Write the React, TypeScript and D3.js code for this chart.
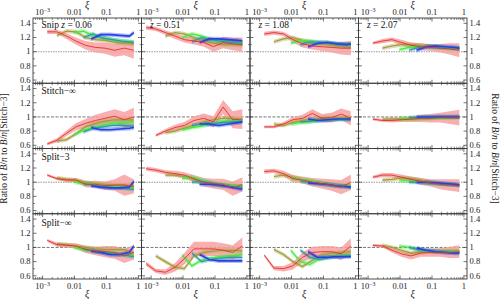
import React from 'react';
import * as d3 from 'd3';

// x grids (xi) for each series
const XR = [0.0014, 0.0028, 0.0056, 0.011, 0.022, 0.045, 0.09, 0.18, 0.36, 0.72];
const XR_B = [0.0007, 0.0014, 0.0028, 0.0056, 0.011, 0.022, 0.045, 0.09, 0.18, 0.36, 0.72];
const XO = [0.0028, 0.0056, 0.011, 0.022, 0.045, 0.09, 0.18, 0.36, 0.72];
const XO_B = [0.0014, 0.0028, 0.0056, 0.011, 0.022, 0.045, 0.09, 0.18, 0.36, 0.72];
const XG = [0.0095, 0.019, 0.038, 0.075, 0.15, 0.3, 0.72];
const XT = [0.019, 0.038, 0.075, 0.15, 0.3, 0.72];
const XB = [0.033, 0.066, 0.13, 0.26, 0.52, 0.72];

const Z_LABELS = ['0.06', '0.51', '1.08', '2.07'];
const ROW_NAMES = ['Snip', 'Stitch\u2212\u221e', 'Split\u22123', 'Split\u2212\u221e'];
const Y_TICKS = [0.6, 0.8, 1, 1.2, 1.4];
const Y_MINOR = [0.7, 0.9, 1.1, 1.3];
const X_TICKS = [1e-3, 0.01, 0.1, 1];
const X_TICK_LABELS = ['10|\u22123', '0.01', '0.1', '1'];

// Row 1: Snip
const RED_SNIP = [
  [1.28, 1.28, 1.22, 1.15, 1.09, 1.06, 1.05, 1.02, 1.05, 1.02],
  [1.34, 1.32, 1.27, 1.22, 1.17, 1.15, 1.13, 1.07, 1.13, 1.11, 1.1],
  [1.25, 1.27, 1.25, 1.17, 1.11, 1.08, 1.07, 1.06, 1.05, 1.05],
  [1.12, 1.15, 1.17, 1.13, 1.09, 1.07, 1.06, 1.05, 1.04, 1.02],
];
const RED_ERR_SNIP = [
  [0.03, 0.03, 0.04, 0.05, 0.06, 0.07, 0.08, 0.09, 0.1, 0.12],
  [0.03, 0.03, 0.03, 0.04, 0.04, 0.05, 0.06, 0.07, 0.08, 0.09, 0.1],
  [0.03, 0.03, 0.03, 0.04, 0.05, 0.05, 0.06, 0.07, 0.09, 0.1],
  [0.02, 0.03, 0.03, 0.04, 0.04, 0.05, 0.05, 0.06, 0.08, 0.1],
];
const OLIVE_SNIP = [
  [1.23, 1.29, 1.28, 1.2, 1.17, 1.16, 1.13, 1.12, 1.11],
  [1.22, 1.27, 1.25, 1.2, 1.15, 1.12, 1.1, 1.1, 1.09],
  [1.14, 1.18, 1.2, 1.16, 1.13, 1.11, 1.09, 1.07, 1.06],
  [1.05, 1.08, 1.1, 1.1, 1.09, 1.07, 1.06, 1.05, 1.04],
];
const GREEN_SNIP = [
  [1.27, 1.29, 1.23, 1.2, 1.17, 1.15, 1.14],
  [1.2, 1.25, 1.22, 1.17, 1.15, 1.13, 1.12],
  [1.12, 1.16, 1.15, 1.13, 1.12, 1.1, 1.1],
  [1.03, 1.06, 1.07, 1.07, 1.06, 1.05, 1.05],
];
const TEAL_SNIP = [
  [1.2, 1.25, 1.19, 1.17, 1.15, 1.13],
  [1.14, 1.2, 1.17, 1.15, 1.13, 1.12],
  [1.1, 1.14, 1.13, 1.12, 1.11, 1.1],
  [1.02, 1.06, 1.07, 1.06, 1.05, 1.05],
];
const BLUE_SNIP = [
  [1.18, 1.24, 1.24, 1.23, 1.22, 1.27],
  [1.13, 1.18, 1.18, 1.17, 1.16, 1.15],
  [1.07, 1.12, 1.13, 1.11, 1.1, 1.11],
  [1.02, 1.07, 1.08, 1.07, 1.06, 1.05],
];

// Row 2: Stitch-inf
const RED_STITCHINF = [
  [0.62, 0.67, 0.77, 0.86, 0.91, 0.95, 0.98, 1.01, 0.96, 1.0],
  [0.74, 0.8, 0.85, 0.88, 0.95, 0.98, 0.93, 1.14, 0.96, 0.97],
  [0.86, 0.86, 0.9, 0.96, 0.98, 1.05, 0.98, 0.99, 1.04, 0.98],
  [0.97, 0.95, 0.95, 0.96, 0.97, 0.98, 0.98, 0.99, 0.99, 0.99],
];
const RED_ERR_STITCHINF = [
  [0.02, 0.03, 0.04, 0.05, 0.06, 0.08, 0.09, 0.1, 0.11, 0.13],
  [0.02, 0.03, 0.04, 0.05, 0.06, 0.07, 0.08, 0.1, 0.12, 0.14],
  [0.02, 0.02, 0.03, 0.04, 0.05, 0.06, 0.06, 0.07, 0.08, 0.1],
  [0.02, 0.02, 0.03, 0.03, 0.04, 0.05, 0.06, 0.07, 0.09, 0.11],
];
const OLIVE_STITCHINF = [
  [0.66, 0.68, 0.76, 0.86, 0.91, 0.94, 0.96, 0.96, 0.96],
  [0.78, 0.8, 0.84, 0.88, 0.93, 0.96, 0.98, 0.98, 0.96],
  [0.9, 0.88, 0.92, 0.95, 0.97, 0.99, 0.99, 0.99, 0.99],
  [0.97, 0.97, 0.97, 0.97, 0.98, 0.98, 0.99, 0.99, 0.99],
];
const GREEN_STITCHINF = [
  [0.75, 0.81, 0.85, 0.88, 0.91, 0.92, 0.93],
  [0.82, 0.85, 0.87, 0.9, 0.93, 0.95, 0.96],
  [0.9, 0.92, 0.93, 0.95, 0.97, 0.97, 0.97],
  [0.98, 0.98, 0.98, 0.99, 0.99, 0.99, 1.0],
];
const TEAL_STITCHINF = [
  [0.79, 0.84, 0.86, 0.88, 0.88, 0.87],
  [0.88, 0.9, 0.9, 0.92, 0.93, 0.94],
  [0.93, 0.94, 0.95, 0.96, 0.97, 0.97],
  [0.99, 0.99, 0.99, 1.0, 1.0, 1.0],
];
const BLUE_STITCHINF = [
  [0.85, 0.82, 0.82, 0.83, 0.84, 0.85],
  [0.9, 0.9, 0.88, 0.9, 0.92, 0.93],
  [0.97, 0.95, 0.96, 0.97, 0.97, 0.97],
  [1.0, 1.0, 1.0, 1.0, 1.0, 1.0],
];

// Row 3: Split-3
const RED_SPLIT3 = [
  [1.1, 1.05, 1.03, 1.03, 0.97, 0.97, 0.95, 0.96, 0.96, 0.94],
  [1.19, 1.17, 1.14, 1.12, 1.1, 1.05, 1.0, 0.98, 0.97, 0.91, 0.97],
  [1.15, 1.16, 1.12, 1.05, 1.03, 1.0, 0.98, 0.96, 0.93, 1.0],
  [1.07, 1.1, 1.1, 1.07, 1.04, 1.01, 0.99, 0.97, 0.96, 0.95],
];
const RED_ERR_SPLIT3 = [
  [0.02, 0.02, 0.03, 0.03, 0.04, 0.05, 0.06, 0.08, 0.15, 0.1],
  [0.03, 0.03, 0.03, 0.04, 0.04, 0.05, 0.06, 0.07, 0.08, 0.1, 0.1],
  [0.03, 0.03, 0.04, 0.05, 0.05, 0.06, 0.07, 0.08, 0.1, 0.11],
  [0.02, 0.03, 0.03, 0.04, 0.04, 0.05, 0.05, 0.07, 0.08, 0.09],
];
const OLIVE_SPLIT3 = [
  [1.06, 1.04, 1.03, 1.0, 0.98, 0.97, 0.96, 0.96, 0.95],
  [1.1, 1.1, 1.08, 1.04, 1.0, 0.97, 0.96, 0.95, 0.94],
  [1.08, 1.1, 1.07, 1.03, 1.01, 0.99, 0.97, 0.95, 0.95],
  [1.03, 1.04, 1.06, 1.05, 1.03, 1.0, 0.98, 0.97, 0.96],
];
const GREEN_SPLIT3 = [
  [1.0, 0.98, 0.97, 0.95, 0.94, 0.93, 0.92],
  [1.05, 1.07, 1.03, 0.99, 0.97, 0.95, 0.94],
  [1.05, 1.04, 1.02, 0.99, 0.97, 0.95, 0.94],
  [1.02, 1.02, 1.01, 0.99, 0.98, 0.97, 0.96],
];
const TEAL_SPLIT3 = [
  [0.98, 0.96, 0.94, 0.93, 0.92, 0.9],
  [1.0, 1.01, 0.99, 0.96, 0.94, 0.93],
  [1.01, 1.0, 0.98, 0.96, 0.94, 0.93],
  [1.0, 1.0, 0.99, 0.98, 0.97, 0.96],
];
const BLUE_SPLIT3 = [
  [0.95, 0.93, 0.92, 0.92, 0.93, 1.01],
  [0.97, 0.97, 0.96, 0.94, 0.91, 0.9],
  [0.99, 0.98, 0.97, 0.95, 0.94, 0.93],
  [1.0, 1.0, 0.99, 0.98, 0.97, 0.96],
];

// Row 4: Split-inf
const RED_SPLITINF = [
  [1.1, 1.04, 1.03, 1.02, 0.97, 0.95, 0.94, 0.93, 0.88, 0.93],
  [0.77, 0.67, 0.65, 0.72, 0.84, 0.98, 0.98, 0.98, 0.96, 0.93, 1.02],
  [0.89, 0.71, 0.7, 0.74, 0.86, 0.93, 0.94, 0.94, 0.91, 1.02],
  [1.03, 1.02, 0.96, 0.91, 0.88, 0.92, 0.93, 0.93, 0.93, 0.94],
];
const RED_ERR_SPLITINF = [
  [0.02, 0.03, 0.03, 0.04, 0.05, 0.06, 0.08, 0.09, 0.1, 0.1],
  [0.03, 0.03, 0.04, 0.06, 0.08, 0.1, 0.1, 0.1, 0.1, 0.1, 0.12],
  [0.02, 0.03, 0.04, 0.05, 0.07, 0.08, 0.08, 0.08, 0.09, 0.11],
  [0.02, 0.02, 0.03, 0.04, 0.05, 0.05, 0.06, 0.06, 0.08, 0.09],
];
const OLIVE_SPLITINF = [
  [1.05, 1.04, 1.02, 1.0, 0.98, 0.97, 0.97, 0.97, 0.92],
  [0.88, 0.8, 0.72, 0.7, 0.88, 0.93, 0.95, 0.96, 0.96, 0.95],
  [0.97, 0.9, 0.8, 0.73, 0.82, 0.9, 0.92, 0.93, 0.94],
  [1.03, 1.0, 0.96, 0.92, 0.93, 0.94, 0.95, 0.95, 0.95],
];
const GREEN_SPLITINF = [
  [1.0, 0.97, 0.95, 0.93, 0.92, 0.9, 0.88],
  [0.89, 0.74, 0.82, 0.85, 0.87, 0.88, 0.9],
  [0.96, 0.8, 0.76, 0.84, 0.87, 0.88, 0.89],
  [1.02, 1.0, 0.97, 0.95, 0.94, 0.94, 0.94],
];
const TEAL_SPLITINF = [
  [0.98, 0.95, 0.93, 0.91, 0.9, 0.87],
  [0.92, 0.8, 0.83, 0.85, 0.86, 0.86],
  [0.96, 0.86, 0.83, 0.86, 0.87, 0.88],
  [1.0, 0.97, 0.95, 0.94, 0.93, 0.93],
];
const BLUE_SPLITINF = [
  [0.95, 0.93, 0.9, 0.9, 0.93, 1.02],
  [0.9, 0.83, 0.81, 0.81, 0.81, 0.81],
  [0.94, 0.86, 0.86, 0.87, 0.87, 0.87],
  [0.99, 0.96, 0.94, 0.93, 0.92, 0.92],
];

const ROWS = [
  { red: RED_SNIP, err: RED_ERR_SNIP, olive: OLIVE_SNIP, green: GREEN_SNIP, teal: TEAL_SNIP, blue: BLUE_SNIP },
  { red: RED_STITCHINF, err: RED_ERR_STITCHINF, olive: OLIVE_STITCHINF, green: GREEN_STITCHINF, teal: TEAL_STITCHINF, blue: BLUE_STITCHINF },
  { red: RED_SPLIT3, err: RED_ERR_SPLIT3, olive: OLIVE_SPLIT3, green: GREEN_SPLIT3, teal: TEAL_SPLIT3, blue: BLUE_SPLIT3 },
  { red: RED_SPLITINF, err: RED_ERR_SPLITINF, olive: OLIVE_SPLITINF, green: GREEN_SPLITINF, teal: TEAL_SPLITINF, blue: BLUE_SPLITINF },
];

const BAND_HALF = 0.03;

const L = 33, T = 18, PW = 108.5, PH = 65.25;
const FONT = '"Liberation Serif", "DejaVu Serif", serif';
const AXIS = '#3a3a3a';

const xs = d3.scaleLog().domain([5e-4, 1.25]).range([0, PW]);
const ys = d3.scaleLinear().domain([0.555, 1.475]).range([PH, 0]);

type P = { x: number; v: number; e: number };
const lineGen = d3.line<P>().x(d => xs(d.x)).y(d => ys(d.v));
const areaGen = d3.area<P>().x(d => xs(d.x)).y0(d => ys(d.v - d.e)).y1(d => ys(d.v + d.e));

function pts(xArr: number[], vals: number[], errs?: number[]): P[] {
  return vals.map((v, i) => ({ x: xArr[i], v, e: errs ? errs[i] : BAND_HALF }));
}

const xMinor: number[] = [];
for (let p = -4; p <= 0; p++) {
  for (let k = 2; k <= 9; k++) {
    const v = k * Math.pow(10, p);
    if (v > 5e-4 && v < 1.25) xMinor.push(v);
  }
}

const SERIES = [
  { key: 'olive', color: '#a39a3c', band: 'rgba(170,160,60,0.4)', w: 1.2 },
  { key: 'green', color: '#3ded3d', band: 'rgba(60,235,60,0.35)', w: 1.2 },
  { key: 'teal', color: '#2a9aa6', band: 'rgba(40,150,165,0.35)', w: 1.2 },
  { key: 'blue', color: '#2541e6', band: 'rgba(40,70,230,0.35)', w: 1.6 },
];

function xFor(key: string, n: number): number[] {
  if (key === 'olive') return n === XO_B.length ? XO_B : XO;
  if (key === 'green') return XG;
  if (key === 'teal') return XT;
  return XB;
}

function Panel({ r, c }: { r: number; c: number }) {
  const row: any = ROWS[r];
  const redVals: number[] = row.red[c];
  const redX = redVals.length === XR_B.length ? XR_B : XR;
  const redPts = pts(redX, redVals, row.err[c]);
  const clipId = `clip-${r}-${c}`;
  const refColor = r % 2 === 0 ? '#999' : '#555';
  const title =
    r === 0 ? (
      <text x={8.5} y={10} fontSize={9.5} fontFamily={FONT} fill="#111">
        {c === 0 ? <tspan>Snip </tspan> : null}
        <tspan fontStyle="italic">z</tspan>
        <tspan> = {Z_LABELS[c]}</tspan>
      </text>
    ) : c === 0 ? (
      <text x={8.5} y={r === 3 ? 12 : 11} fontSize={9.5} fontFamily={FONT} fill="#111">
        {ROW_NAMES[r]}
      </text>
    ) : null;
  return (
    <g transform={`translate(${L + c * PW},${T + r * PH})`}>
      <defs>
        <clipPath id={clipId}>
          <rect x={0} y={0} width={PW} height={PH} />
        </clipPath>
      </defs>
      <g clipPath={`url(#${clipId})`}>
        <line x1={0} x2={PW} y1={ys(1)} y2={ys(1)} stroke={refColor} strokeWidth={r % 2 === 0 ? 1.1 : 0.8} strokeDasharray={r % 2 === 0 ? '1.5,1' : '3,1.5'} />
        <path d={areaGen(redPts) || ''} fill="#f7a1a1" opacity={0.85} />
        {SERIES.map(s => {
          const vals: number[] = row[s.key][c];
          const p = pts(xFor(s.key, vals.length), vals);
          return <path key={s.key + 'b'} d={areaGen(p) || ''} fill={s.band} />;
        })}
        {SERIES.map(s => {
          const vals: number[] = row[s.key][c];
          const p = pts(xFor(s.key, vals.length), vals);
          return <path key={s.key} d={lineGen(p) || ''} fill="none" stroke={s.color} strokeWidth={s.w} />;
        })}
        <path d={lineGen(redPts) || ''} fill="none" stroke="#e52e2e" strokeWidth={0.9} />
      </g>
      {X_TICKS.map(t => (
        <g key={'xt' + t}>
          <line x1={xs(t)} x2={xs(t)} y1={PH} y2={PH - 3.5} stroke={AXIS} strokeWidth={0.7} />
          <line x1={xs(t)} x2={xs(t)} y1={0} y2={3.5} stroke={AXIS} strokeWidth={0.7} />
        </g>
      ))}
      {xMinor.map(t => (
        <g key={'xm' + t}>
          <line x1={xs(t)} x2={xs(t)} y1={PH} y2={PH - 2} stroke={AXIS} strokeWidth={0.6} />
          <line x1={xs(t)} x2={xs(t)} y1={0} y2={2} stroke={AXIS} strokeWidth={0.6} />
        </g>
      ))}
      {Y_TICKS.map(t => (
        <g key={'yt' + t}>
          <line x1={0} x2={3.5} y1={ys(t)} y2={ys(t)} stroke={AXIS} strokeWidth={0.7} />
          <line x1={PW} x2={PW - 3.5} y1={ys(t)} y2={ys(t)} stroke={AXIS} strokeWidth={0.7} />
        </g>
      ))}
      {Y_MINOR.map(t => (
        <g key={'ym' + t}>
          <line x1={0} x2={2} y1={ys(t)} y2={ys(t)} stroke={AXIS} strokeWidth={0.6} />
          <line x1={PW} x2={PW - 2} y1={ys(t)} y2={ys(t)} stroke={AXIS} strokeWidth={0.6} />
        </g>
      ))}
      <rect x={0} y={0} width={PW} height={PH} fill="none" stroke={AXIS} strokeWidth={0.9} />
      {title}
    </g>
  );
}

function XLabel({ label, x, y }: { label: string; x: number; y: number }) {
  if (label.includes('|')) {
    const [base, exp] = label.split('|');
    return (
      <text x={x} y={y} textAnchor="middle" fontSize={8.5} fontFamily={FONT} fill="#222">
        {base}
        <tspan dy={-3} fontSize={6}>{exp}</tspan>
      </text>
    );
  }
  return (
    <text x={x} y={y} textAnchor="middle" fontSize={8.5} fontFamily={FONT} fill="#222">
      {label}
    </text>
  );
}

function YAxisTitle({ x, y, rot }: { x: number; y: number; rot: number }) {
  return (
    <text
      transform={`translate(${x},${y}) rotate(${rot})`}
      textAnchor="middle"
      fontSize={9.5}
      fontFamily={FONT}
      fill="#222"
    >
      <tspan>Ratio of </tspan>
      <tspan fontStyle="italic">B</tspan>
      <tspan>/</tspan>
      <tspan fontStyle="italic">n</tspan>
      <tspan> to </tspan>
      <tspan fontStyle="italic">B</tspan>
      <tspan>/</tspan>
      <tspan fontStyle="italic">n</tspan>
      <tspan>[Stitch{'\u2212'}3]</tspan>
    </text>
  );
}

export default function App() {
  const cells: JSX.Element[] = [];
  for (let r = 0; r < 4; r++) for (let c = 0; c < 4; c++) cells.push(<Panel key={`${r}-${c}`} r={r} c={c} />);
  const bottom = T + 4 * PH;
  return (
    <svg width={500} height={299} style={{ position: 'absolute', left: 0, top: 0, background: '#fff' }}>
      <rect width={500} height={299} fill="#fff" />
      {cells}
      {[0, 1, 2, 3].map(c => (
        <g key={'xl' + c}>
          {X_TICKS.map((t, i) => (
            <XLabel key={'top' + i} label={X_TICK_LABELS[i]} x={L + c * PW + xs(t)} y={T - 3} />
          ))}
          {X_TICKS.map((t, i) => (
            <XLabel key={'bot' + i} label={X_TICK_LABELS[i]} x={L + c * PW + xs(t)} y={bottom + 10} />
          ))}
          <text x={L + c * PW + PW / 2} y={8} textAnchor="middle" fontSize={10} fontStyle="italic" fontFamily={FONT} fill="#222">
            ξ
          </text>
          <text x={L + c * PW + PW / 2} y={297} textAnchor="middle" fontSize={10} fontStyle="italic" fontFamily={FONT} fill="#222">
            ξ
          </text>
        </g>
      ))}
      {[0, 1, 2, 3].map(r => (
        <g key={'yl' + r}>
          {Y_TICKS.map(t => (
            <text key={'l' + t} x={L - 2.5} y={T + r * PH + ys(t)} dy="0.33em" textAnchor="end" fontSize={8.5} fontFamily={FONT} fill="#222">
              {String(t)}
            </text>
          ))}
          {Y_TICKS.map(t => (
            <text key={'r' + t} x={L + 4 * PW + 2.5} y={T + r * PH + ys(t)} dy="0.33em" textAnchor="start" fontSize={8.5} fontFamily={FONT} fill="#222">
              {String(t)}
            </text>
          ))}
        </g>
      ))}
      <YAxisTitle x={7} y={T + 2 * PH} rot={-90} />
      <YAxisTitle x={492} y={T + 2 * PH} rot={90} />
    </svg>
  );
}
